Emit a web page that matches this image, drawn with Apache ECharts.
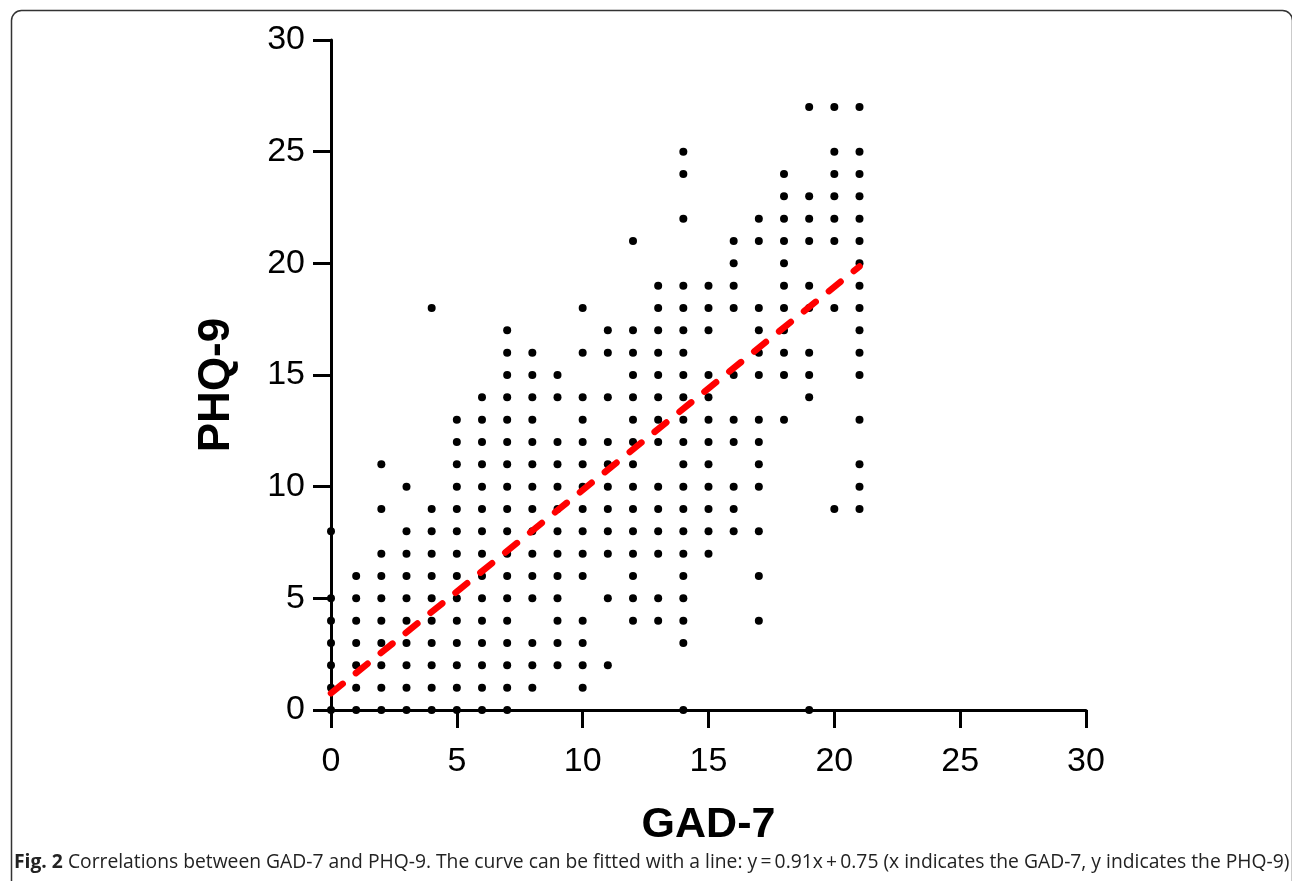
<!DOCTYPE html>
<html>
<head>
<meta charset="utf-8">
<script src="https://cdn.jsdelivr.net/npm/echarts@6/dist/echarts.min.js"></script>
<style>
html,body{margin:0;padding:0;background:#fff;}
#chart{width:1292px;height:881px;}
</style>
</head>
<body>
<div id="chart"></div>
<script>
// GAD-7 scores (x) and the PHQ-9 scores (y) observed at each GAD-7 score
const gadScores = [0,1,2,3,4,5,6,7,8,9,10,11,12,13,14,15,16,17,18,19,20,21];
const phqByGad = [
  [0,1,2,3,4,5,8],
  [0,1,2,3,4,5,6],
  [0,1,2,3,4,5,6,7,9,11],
  [0,1,2,3,4,5,6,7,8,10],
  [0,1,2,3,4,5,6,7,8,9,18],
  [0,1,2,3,4,5,6,7,8,9,10,11,12,13],
  [0,1,2,3,4,5,6,7,8,9,10,11,12,13,14],
  [0,1,2,3,4,5,6,7,8,9,10,11,12,13,14,15,16,17],
  [1,2,3,5,6,7,8,9,10,11,12,13,14,15,16],
  [2,3,4,5,6,7,8,9,10,11,12,14,15],
  [1,2,3,4,6,7,8,9,10,11,12,13,14,16,18],
  [2,5,7,8,9,10,11,12,14,16,17],
  [4,5,6,7,8,9,10,11,12,13,14,15,16,17,21],
  [4,5,7,8,9,10,12,13,14,15,16,17,18,19],
  [0,3,4,5,6,7,8,9,10,11,12,13,14,15,16,17,18,19,22,24,25],
  [7,8,9,10,11,12,13,14,15,17,18,19],
  [8,9,10,12,13,15,18,19,20,21],
  [4,6,8,10,11,12,13,15,16,17,18,21,22],
  [13,15,16,17,18,19,20,21,22,23,24],
  [0,14,15,16,18,19,21,22,23,27],
  [9,18,21,22,23,24,25,27],
  [9,10,11,13,15,16,17,18,19,20,21,22,23,24,25,27]
];
// fitted line y = 0.91x + 0.75, endpoints as drawn
const fitLine = [[0,0.75],[21,19.86]];
const axisTicks = [0,5,10,15,20,25,30];
const captionBold = 'Fig. 2';
const captionText = ' Correlations between GAD-7 and PHQ-9. The curve can be fitted with a line: y\u2009=\u20090.91x\u2009+\u20090.75 (x indicates the GAD-7, y indicates the PHQ-9)';

const points = [];
gadScores.forEach((g, i) => { phqByGad[i].forEach(p => points.push([g, p])); });

const chart = echarts.init(document.getElementById('chart'), null, {renderer:'canvas'});
const axisCommon = {
  min: axisTicks[0], max: axisTicks[axisTicks.length-1], interval: 5,
  splitLine:{show:false},
  axisLine:{show:true, onZero:false, lineStyle:{color:'#000', width:3}},
  axisTick:{show:true, inside:false, length:18, lineStyle:{color:'#000', width:3}},
  nameLocation:'middle'
};
chart.setOption({
  animation:false,
  backgroundColor:'#fff',
  grid:{left:331, top:40, right:206, bottom:171, containLabel:false},
  xAxis: Object.assign({}, axisCommon, {
    type:'value', name:'GAD-7', nameGap:94,
    nameTextStyle:{fontFamily:'Liberation Sans', fontWeight:'bold', fontSize:43, color:'#000'},
    axisLabel:{margin:35, fontFamily:'Liberation Sans', fontSize:34, color:'#000'}
  }),
  yAxis: Object.assign({}, axisCommon, {
    type:'value', name:'PHQ-9', nameGap:92,
    nameTextStyle:{fontFamily:'Liberation Sans', fontWeight:'bold', fontSize:44, color:'#000', padding:[0,20,0,0]},
    axisLabel:{margin:26, fontFamily:'Liberation Sans', fontSize:34, color:'#000'}
  }),
  series:[
    {type:'scatter', data:points, symbol:'circle', symbolSize:8, itemStyle:{color:'#000', opacity:1}, z:2},
    {type:'line', data:fitLine, showSymbol:false, symbol:'none', z:3,
     lineStyle:{color:'#ff0000', width:6.5, type:[15,17], cap:'round', opacity:1}}
  ],
  graphic:[
    {type:'rect', left:9, top:8, shape:{width:1281, height:900, r:10},
     style:{fill:'none', stroke:'#333', lineWidth:1.5}, silent:true},
    {type:'text', left:14, top:853,
     style:{text:'{b|'+captionBold+'}{r|'+captionText+'}',
       rich:{
         b:{fontFamily:'Open Sans', fontWeight:'bold', fontSize:19.3, fill:'#222'},
         r:{fontFamily:'Open Sans', fontSize:19.3, fill:'#222'}
       }}}
  ]
});
</script>
</body>
</html>
